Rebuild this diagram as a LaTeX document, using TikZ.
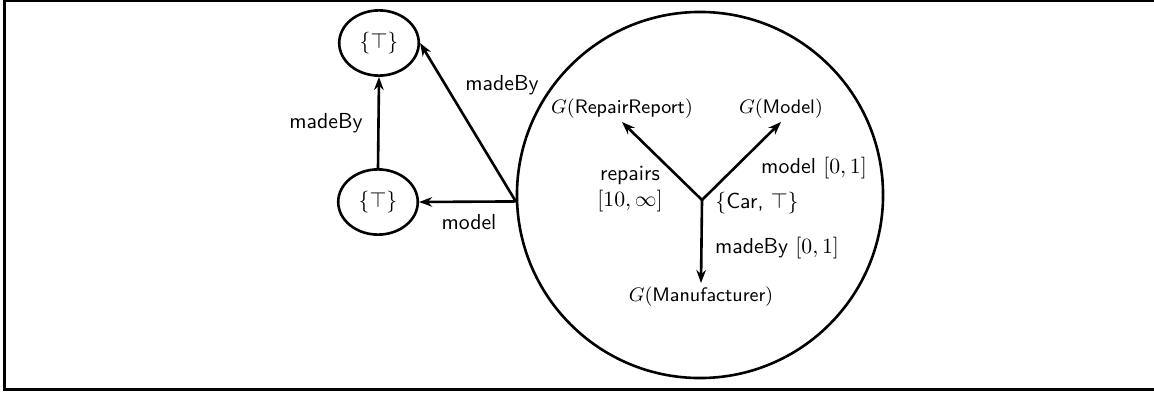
\documentclass[tikz,border=0pt]{standalone}
\usetikzlibrary{shapes.geometric,arrows.meta}
\begin{document}
\begin{tikzpicture}[x=0.46pt,y=-0.46pt,
  line width=1.2pt,
  arr/.style={-{Stealth[length=6pt,width=4.4pt]}},
  typ/.style={draw,ellipse,inner sep=0pt,minimum width=36.6pt,minimum height=30pt,font=\sffamily},
  lbl/.style={font=\sffamily,inner sep=1pt},
  cls/.style={font=\sffamily\small,inner sep=1pt}]
\useasboundingbox (0,0) rectangle (1154,392);
\clip (0,0) rectangle (1154,392);
% outer frame
\draw[line width=1.4pt] (4.5,0.5) rectangle (1180,389.5);

% type nodes on the left
\node[typ] (top) at (379,43) {$\{\top\}$};
\node[typ] (mid) at (378,202) {$\{\top\}$};

% the large circle holding the Car graph
\node[draw,circle,inner sep=0pt,minimum size=168.4pt] (big) at (700,195) {};
\coordinate (src) at (big.182);

% inner graph
\coordinate (car) at (702,200);
\node[cls,anchor=south] (rr) at (622,122) {$G($RepairReport$)$};
\node[cls,anchor=south] (md) at (781,122) {$G($Model$)$};
\node[cls,anchor=north] (mf) at (701,283) {$G($Manufacturer$)$};

\draw[arr] (car) -- (rr.south);
\draw[arr] (car) -- (md.south);
\draw[arr] (car) -- (mf.north);

\node[lbl] (carl) at (757,203) {$\{$Car, $\top\}$};
\node[lbl,align=center] (repl) at (630,189.5) {repairs\\$[10,\infty]$};
\node[lbl] (modl) at (814,168) {model $[0,1]$};
\node[lbl] (mbl) at (777,248) {madeBy $[0,1]$};

% outer edges
\draw[arr] (src) -- (mid.east);
\draw[arr] (src) -- (top.east);
\draw[arr] (mid.north) -- (top.south);

\node[lbl] (l1) at (502,85) {madeBy};
\node[lbl] (l2) at (326,123) {madeBy};
\node[lbl] (l3) at (469,222) {model};
\end{tikzpicture}
\end{document}
